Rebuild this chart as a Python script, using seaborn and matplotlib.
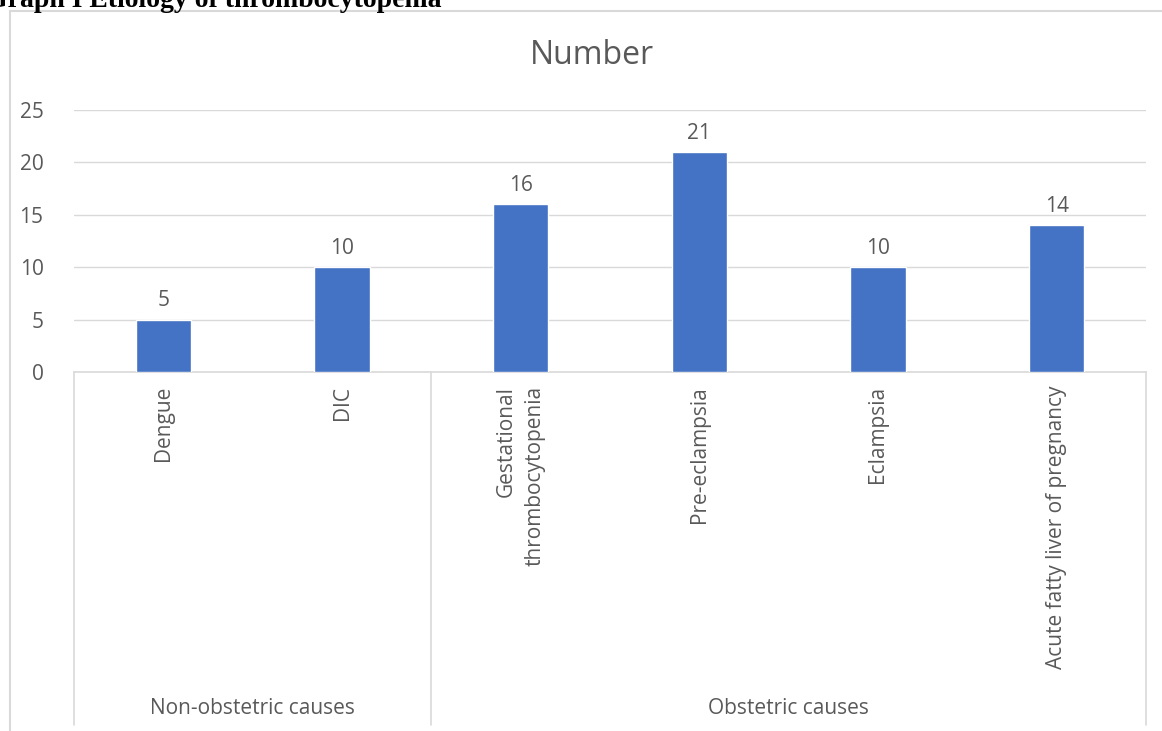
import matplotlib
matplotlib.use("Agg")
import matplotlib.pyplot as plt
import matplotlib.transforms as mtransforms
from matplotlib.lines import Line2D
import seaborn as sns
import pandas as pd

categories = ["Dengue", "DIC", "Gestational\nthrombocytopenia", "Pre-eclampsia",
              "Eclampsia", "Acute fatty liver of pregnancy"]
values = [5, 10, 16, 21, 10, 14]
groups = ["Non-obstetric causes", "Obstetric causes"]
group_sizes = [2, 4]
y_ticks = [0, 5, 10, 15, 20, 25]
title = "Number"
heading = "Graph I Etiology of thrombocytopenia"

sns.set_style("white")
plt.rcParams['font.family'] = ['Open Sans', 'DejaVu Sans']
TXT = "#595959"
GRID = "#D9D9D9"
BAR = "#4472C4"
FS = 15

W, H = 1162, 731
fig = plt.figure(figsize=(W / 100, H / 100), dpi=100)
ax = fig.add_axes([74 / W, 1 - 372 / H, (1146 - 74) / W, (372 - 110) / H])

df = pd.DataFrame({"cat": categories, "val": values})
sns.barplot(data=df, x="cat", y="val", color=BAR, width=0.31, ax=ax,
            saturation=1, zorder=3)
ax.set_xlim(-0.5, len(categories) - 0.5)
ax.set_ylim(0, 25)
ax.set_yticks(y_ticks)
ax.set_yticklabels([str(t) for t in y_ticks], color=TXT, fontsize=FS)
ax.yaxis.grid(True, color=GRID, lw=1, zorder=0)
ax.set_xlabel("")
ax.set_ylabel("")
for s in ["top", "right", "left"]:
    ax.spines[s].set_visible(False)
ax.spines["bottom"].set_color(GRID)
ax.spines["bottom"].set_linewidth(1.2)
ax.tick_params(axis="both", length=0)
ax.tick_params(axis="y", pad=22)
ax.set_xticks(range(len(categories)))
ax.set_xticklabels(categories, rotation=90, color=TXT, fontsize=FS,
                   va="top", ha="center", multialignment="right",
                   linespacing=1.45)
ax.tick_params(axis="x", pad=10)

for c in ax.containers:
    ax.bar_label(c, labels=[str(v) for v in values], padding=6, color=TXT, fontsize=FS)

fig.text(592 / W, 1 - 56 / H, title, color=TXT, fontsize=23, ha="center", va="center")

# group separators and labels
trans = mtransforms.blended_transform_factory(ax.transData, ax.transAxes)
ah = (372 - 110) / H
y_bot = ((1 - 725 / H) - (1 - 372 / H)) / ah
bounds = [-0.5]
for n in group_sizes:
    bounds.append(bounds[-1] + n)
for b in bounds:
    ax.add_line(Line2D([b, b], [0, y_bot], transform=trans, color=GRID,
                       lw=1.2, clip_on=False))
for i, g in enumerate(groups):
    xm = (bounds[i] + bounds[i + 1]) / 2
    ax.text(xm, ((1 - 709 / H) - (1 - 372 / H)) / ah, g,
            transform=trans, ha="center", va="center", color=TXT, fontsize=FS)

# outer chart border
fig.add_artist(Line2D([10 / W, 10 / W], [0, 1 - 11 / H], color=GRID, lw=1.5,
                      transform=fig.transFigure))
fig.add_artist(Line2D([10 / W, 1], [1 - 11 / H, 1 - 11 / H], color=GRID, lw=1.5,
                      transform=fig.transFigure))

# heading cut at top (as in the reference)
fig.text(-14 / W, 1 - 7 / H, heading, fontfamily="Liberation Serif",
         fontweight="bold", fontsize=20, va="baseline", ha="left", color="black")

fig.savefig("out.png", dpi=100)
